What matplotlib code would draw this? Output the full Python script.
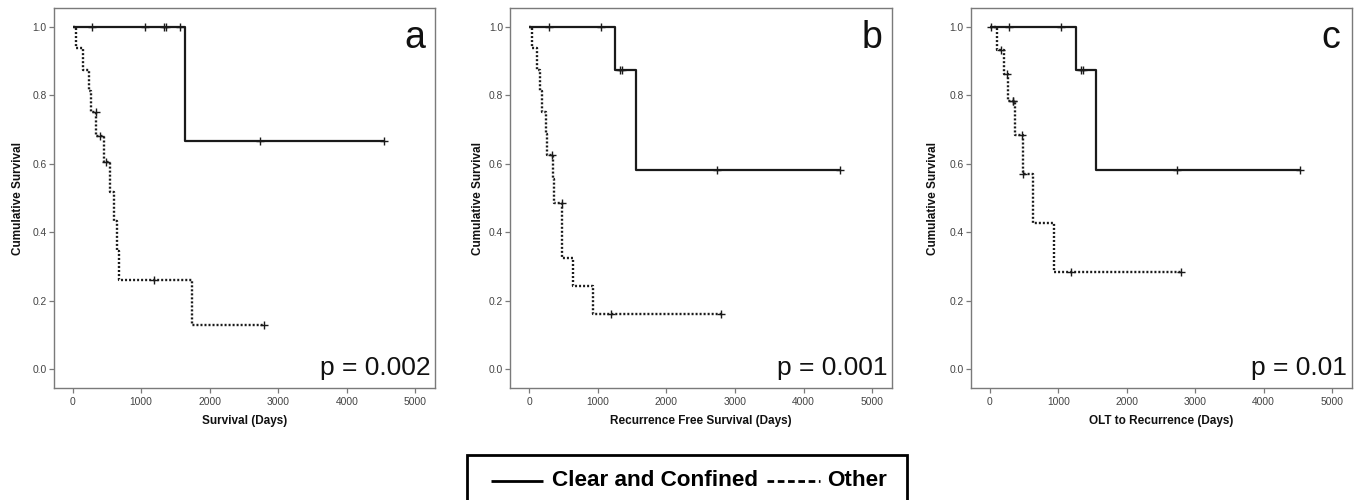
import matplotlib
matplotlib.use("Agg")
import matplotlib.pyplot as plt
from matplotlib.lines import Line2D
from matplotlib.patches import Rectangle
import numpy as np

plt.rcParams['font.family'] = ['Liberation Sans', 'DejaVu Sans']

# ---------------- data ----------------
panel_letters = ["a", "b", "c"]
x_labels = ["Survival (Days)", "Recurrence Free Survival (Days)", "OLT to Recurrence (Days)"]
p_values = ["p = 0.002", "p = 0.001", "p = 0.01"]
x_ticks = [0, 1000, 2000, 3000, 4000, 5000]
y_ticks = [0.0, 0.2, 0.4, 0.6, 0.8, 1.0]
legend_labels = ["Clear and Confined", "Other"]

# Panel a - Clear and Confined
a_cc_event_t = [1645]
a_cc_event_s = [0.667]
a_cc_cens_t = [283, 1051, 1339, 1363, 1572, 2740, 4540]
# Panel a - Other
a_ot_event_t = [45, 155, 234, 268, 346, 465, 540, 599, 647, 672, 1743]
a_ot_event_s = [0.9375, 0.875, 0.8125, 0.75, 0.682, 0.606, 0.519, 0.433, 0.346, 0.260, 0.130]
a_ot_cens_t = [336, 404, 482, 1193, 2788]

# Panel b - Clear and Confined
b_cc_event_t = [1252, 1553]
b_cc_event_s = [0.875, 0.583]
b_cc_cens_t = [291, 1048, 1325, 1350, 2733, 4529]
# Panel b - Other
b_ot_event_t = [39, 121, 160, 194, 243, 267, 345, 370, 485, 637, 938]
b_ot_event_s = [0.9375, 0.875, 0.8125, 0.75, 0.6875, 0.625, 0.556, 0.486, 0.324, 0.243, 0.162]
b_ot_cens_t = [340, 476, 1200, 2790]

# Panel c - Clear and Confined
c_cc_event_t = [1266, 1558]
c_cc_event_s = [0.875, 0.583]
c_cc_cens_t = [282, 1047, 1329, 1363, 2736, 4528]
# Panel c - Other
c_ot_event_t = [112, 209, 273, 365, 487, 627, 934]
c_ot_event_s = [0.933, 0.862, 0.783, 0.685, 0.571, 0.428, 0.2855]
c_ot_cens_t = [20, 171, 258, 335, 345, 474, 492, 1193, 2790]

panels = [
    ((a_cc_event_t, a_cc_event_s, a_cc_cens_t), (a_ot_event_t, a_ot_event_s, a_ot_cens_t)),
    ((b_cc_event_t, b_cc_event_s, b_cc_cens_t), (b_ot_event_t, b_ot_event_s, b_ot_cens_t)),
    ((c_cc_event_t, c_cc_event_s, c_cc_cens_t), (c_ot_event_t, c_ot_event_s, c_ot_cens_t)),
]

# ---------------- layout ----------------
W, H = 1358, 500
fig = plt.figure(figsize=(W / 100, H / 100), dpi=100)

ax_px = [(53.5, 435.0), (510.0, 891.7), (970.7, 1351.7)]
top_px, bot_px = 8.0, 388.3
ylab_x = [-0.093, -0.083, -0.098]

frame_col = "#7a7a7a"
tick_col = "#444444"
line_col = "#1a1a1a"


def step_arrays(ev_t, ev_s, cens_t):
    t = [0] + list(ev_t)
    s = [1.0] + list(ev_s)
    t_end = max(max(cens_t), max(ev_t))
    t.append(t_end)
    s.append(s[-1])
    return np.array(t, float), np.array(s, float)


def surv_at(t_arr, s_arr, x):
    idx = np.searchsorted(t_arr, x, side="right") - 1
    return s_arr[np.clip(idx, 0, len(s_arr) - 1)]


for i, (left, right) in enumerate(ax_px):
    ax = fig.add_axes([left / W, (H - bot_px) / H, (right - left) / W, (bot_px - top_px) / H])
    styles = [dict(ls="-", lw=1.6), dict(ls=(0, (0.85, 0.85)), lw=1.7)]
    for (ev_t, ev_s, cens_t), st in zip(panels[i], styles):
        t, s = step_arrays(ev_t, ev_s, cens_t)
        ax.step(t, s, where="post", color=line_col, solid_capstyle="butt", **st)
        cy = surv_at(t, s, np.array(cens_t, float))
        ax.plot(cens_t, cy, ls="none", marker="+", ms=6, mew=1.0, color=line_col)

    ax.set_xlim(-278, 5285)
    ax.set_ylim(-0.055, 1.055)
    ax.set_xticks(x_ticks)
    ax.set_xticklabels([str(v) for v in x_ticks])
    ax.set_yticks(y_ticks)
    ax.set_yticklabels([f"{v:.1f}" for v in y_ticks])
    ax.tick_params(axis="both", direction="out", length=3.6, width=0.9, color=frame_col,
                   labelsize=7.4, labelcolor=tick_col, pad=1.5)
    ax.tick_params(axis="x", pad=2.5)
    for sp in ax.spines.values():
        sp.set_color(frame_col)
        sp.set_linewidth(1.0)

    ax.set_xlabel(x_labels[i], fontsize=8.5, fontweight="bold", color="#111111")
    ax.xaxis.label.set_va("center")
    ax.xaxis.set_label_coords(0.5, -0.086)
    ax.set_ylabel("Cumulative Survival", fontsize=8.5, fontweight="bold", color="#111111")
    ax.yaxis.label.set_va("center")
    ax.yaxis.set_label_coords(ylab_x[i], 0.5)

    ax.text(0.921, 0.895, panel_letters[i], transform=ax.transAxes, ha="left",
            va="baseline", fontsize=27, color="#111111")
    ax.text(0.988, 0.035, p_values[i], transform=ax.transAxes, ha="right",
            va="baseline", fontsize=19, color="#111111")

# ---------------- legend box ----------------
box_l, box_r, box_t, box_b = 467.3, 906.7, 455.0, 520.0
fig.patches.append(Rectangle((box_l / W, (H - box_b) / H), (box_r - box_l) / W,
                             (box_b - box_t) / H, transform=fig.transFigure,
                             fill=False, edgecolor="black", lw=2.0, clip_on=False))
ly = (H - 481.0) / H
fig.add_artist(Line2D([491 / W, 543.3 / W], [ly, ly], transform=fig.transFigure,
                      color="black", lw=2.0, solid_capstyle="butt"))
fig.text(551.7 / W, ly, legend_labels[0], fontsize=16.2, fontweight="bold",
         ha="left", va="center", color="black")
fig.add_artist(Line2D([766.7 / W, 820 / W], [ly, ly], transform=fig.transFigure,
                      color="black", lw=2.0, ls=(0, (2.4, 1.3))))
fig.text(827 / W, ly, legend_labels[1], fontsize=16.2, fontweight="bold",
         ha="left", va="center", color="black")

fig.savefig("out.png", dpi=100)
